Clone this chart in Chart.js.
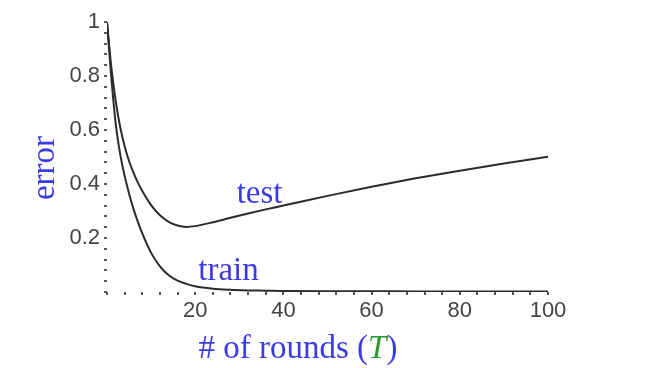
<!DOCTYPE html>
<html>
<head>
<meta charset="utf-8">
<script src="https://cdn.jsdelivr.net/npm/chart.js@4"></script>
<style>
  html, body { margin: 0; padding: 0; background: #fff; }
  #wrap { width: 650px; height: 368px; }
</style>
</head>
<body>
<div id="wrap"><canvas id="chart" width="650" height="368"></canvas></div>
<script>
// rounds T and error values
const rounds   = [0, 1, 2, 3, 4, 5, 6, 7, 8, 10, 12, 14, 16, 18, 20, 24, 28, 32, 36, 40, 50, 60, 70, 80, 90, 100];
const testErr  = [1.0, 0.83, 0.705, 0.61, 0.54, 0.485, 0.442, 0.405, 0.374, 0.322, 0.284, 0.26, 0.246, 0.241, 0.244, 0.258, 0.275, 0.291, 0.306, 0.32, 0.356, 0.39, 0.421, 0.449, 0.476, 0.501];
const trainErr = [1.0, 0.79, 0.62, 0.51, 0.43, 0.365, 0.308, 0.26, 0.217, 0.145, 0.095, 0.062, 0.042, 0.03, 0.021, 0.012, 0.008, 0.006, 0.005, 0.004, 0.003, 0.003, 0.002, 0.002, 0.002, 0.002];

const xLabels = [20, 40, 60, 80, 100];
const yLabels = [0.2, 0.4, 0.6, 0.8, 1];

// curve names, anchored in data coordinates (left edge, baseline)
const curveNames = ['test', 'train'];
const nameAt = [[29.4, 0.33], [20.7, 0.044]];

const BLUE = '#3b3be3';
const GREEN = '#2e9a35';
const SERIF = '"Liberation Serif", "Times New Roman", serif';

function near(v, list) {
    return list.find(l => Math.abs(l - v) < 1e-6);
}

const textPlugin = {
    id: 'texts',
    afterDraw(chart) {
        const ctx = chart.ctx;
        const xs = chart.scales.x, ys = chart.scales.y;
        ctx.save();
        ctx.fillStyle = BLUE;
        ctx.font = '33px ' + SERIF;
        ctx.textBaseline = 'alphabetic';
        ctx.textAlign = 'left';
        curveNames.forEach((name, i) => {
            ctx.fillText(name, xs.getPixelForValue(nameAt[i][0]), ys.getPixelForValue(nameAt[i][1]));
        });

        // x title: "# of rounds (T)" with green italic T
        const a = '# of rounds (', b = 'T', c = ')';
        ctx.font = '33px ' + SERIF;
        const wa = ctx.measureText(a).width, wc = ctx.measureText(c).width;
        ctx.font = 'italic 33px ' + SERIF;
        const wb = ctx.measureText(b).width;
        let x = 298 - (wa + wb + wc) / 2;
        const y = 358;
        ctx.font = '33px ' + SERIF;
        ctx.fillStyle = BLUE;
        ctx.fillText(a, x, y);
        x += wa;
        ctx.font = 'italic 33px ' + SERIF;
        ctx.fillStyle = GREEN;
        ctx.fillText(b, x, y);
        x += wb;
        ctx.font = '33px ' + SERIF;
        ctx.fillStyle = BLUE;
        ctx.fillText(c, x, y);

        // y title
        ctx.translate(54, 168);
        ctx.rotate(-Math.PI / 2);
        ctx.textAlign = 'center';
        ctx.fillText('error', 0, 0);
        ctx.restore();
    }
};

new Chart(document.getElementById('chart'), {
    type: 'line',
    data: {
        datasets: [
            { label: 'test', data: rounds.map((t, i) => ({x: t, y: testErr[i]})) },
            { label: 'train', data: rounds.map((t, i) => ({x: t, y: trainErr[i]})) }
        ]
    },
    options: {
        responsive: false,
        animation: false,
        events: [],
        layout: { padding: { left: 0, right: 102, top: 22, bottom: 0 } },
        elements: {
            line: { borderColor: '#2b2b2b', borderWidth: 2, cubicInterpolationMode: 'monotone', fill: false },
            point: { radius: 0 }
        },
        plugins: { legend: { display: false }, tooltip: { enabled: false } },
        scales: {
            x: {
                type: 'linear', min: 0, max: 100,
                border: { display: false },
                grid: { drawOnChartArea: false, drawTicks: true, tickLength: 3, lineWidth: 2, color: '#555' },
                ticks: {
                    stepSize: 4, autoSkip: false, maxRotation: 0, padding: 3,
                    color: '#444', font: { family: '"Liberation Sans", Arial, sans-serif', size: 22 },
                    callback: v => near(v, xLabels) !== undefined ? String(v) : ''
                },
                afterFit(s) { s.height = 76; }
            },
            y: {
                type: 'linear', min: 0, max: 1,
                border: { display: false },
                grid: { drawOnChartArea: false, drawTicks: true, tickLength: 3, lineWidth: 2, color: '#555' },
                ticks: {
                    stepSize: 0.04, autoSkip: false, padding: 4,
                    color: '#444', font: { family: '"Liberation Sans", Arial, sans-serif', size: 22 },
                    callback: v => { const l = near(v, yLabels); return l !== undefined ? String(l) : ''; }
                },
                afterFit(s) { s.width = 107; }
            }
        }
    },
    plugins: [textPlugin]
});
</script>
</body>
</html>
